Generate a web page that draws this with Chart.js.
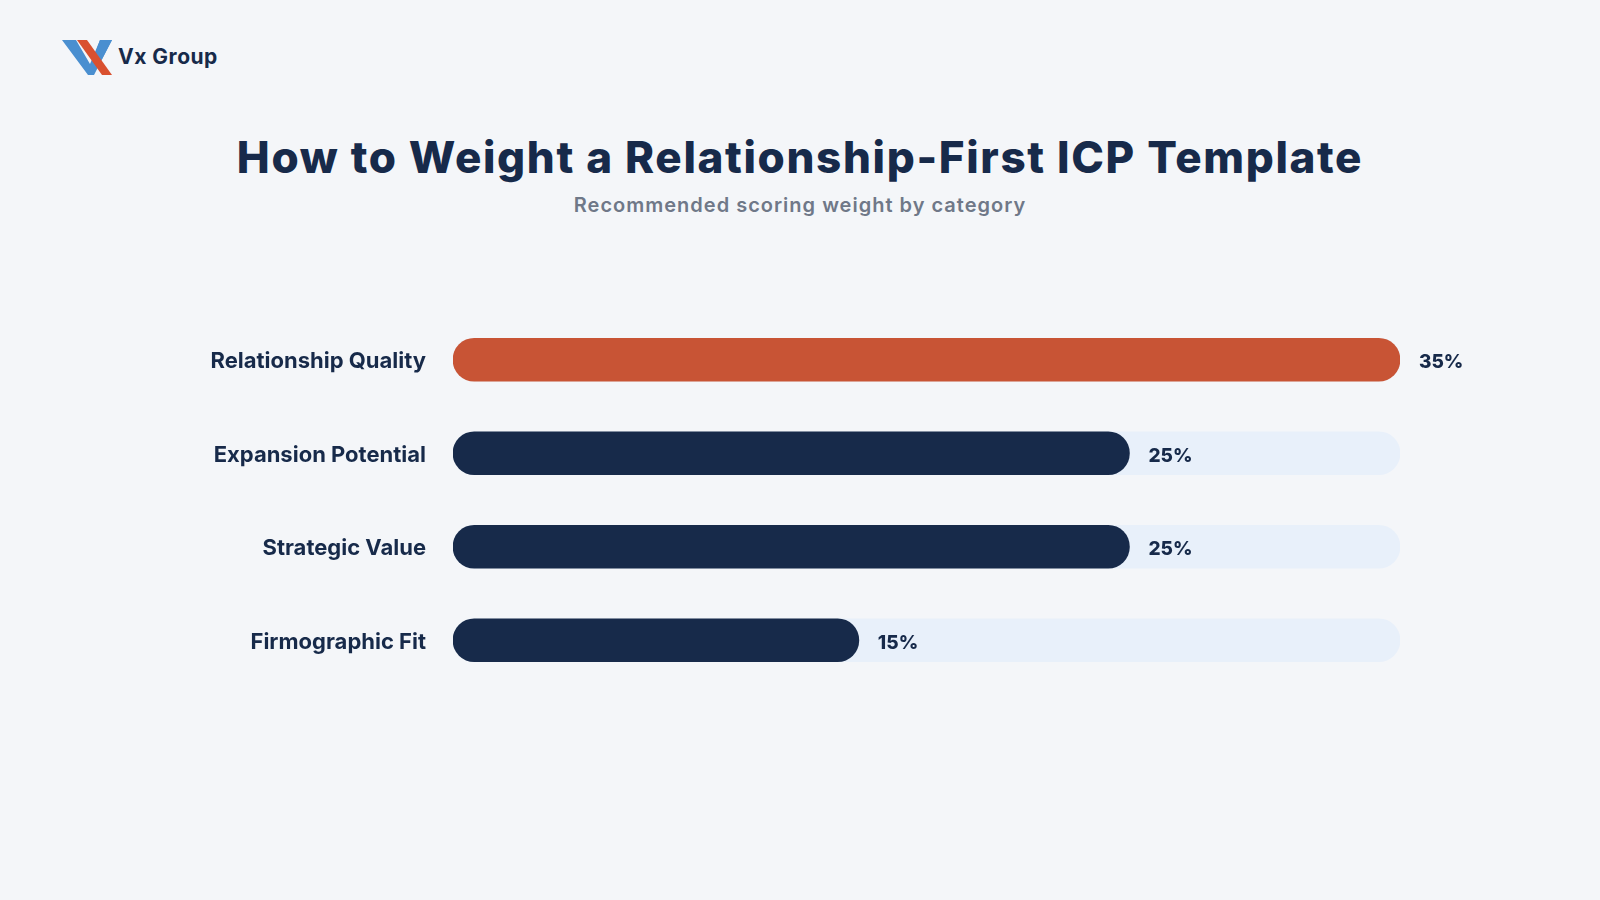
<!DOCTYPE html>
<html>
<head>
<meta charset="utf-8">
<title>How to Weight a Relationship-First ICP Template</title>
<script src="https://cdn.jsdelivr.net/npm/chart.js@4.4.1/dist/chart.umd.min.js"></script>
<style>
  html, body { margin: 0; padding: 0; background: #f4f6f9; }
  body { width: 1600px; height: 900px; position: relative; overflow: hidden; font-family: Inter, "Open Sans", sans-serif; color: #172a4a; }
  #chart { position: absolute; left: 0; top: 0; }
  .logo { position: absolute; left: 60px; top: 38px; width: 60px; height: 40px; }
  .brand { position: absolute; left: 118px; top: 45px; font-size: 21px; line-height: 24px; font-weight: 700; letter-spacing: 0.5px; color: #172a4a; }
  .title { position: absolute; left: 0; width: 1600px; top: 135px; text-align: center; font-size: 44px; line-height: 44px; font-weight: 800; letter-spacing: 1.65px; }
  .subtitle { position: absolute; left: 0; width: 1600px; top: 195px; text-align: center; font-size: 20px; line-height: 20px; font-weight: 600; letter-spacing: 1px; color: #6f7888; }
</style>
</head>
<body>
<svg class="logo" viewBox="0 0 60 40">
  <polygon points="2,2 16,2 30,26 40,2 52,2 34,37 28,37" fill="#4a8fd0"/>
  <polygon points="17,2 27,2 52,37 42,37" fill="#d9502f"/>
  <polygon points="40,2 52,2 42,21 36,13" fill="#4a8fd0"/>
</svg>
<div class="brand">Vx Group</div>
<div class="title">How to Weight a Relationship-First ICP Template</div>
<div class="subtitle">Recommended scoring weight by category</div>
<canvas id="chart" width="1600" height="900"></canvas>
<script>
// data
const categories = ['Relationship Quality', 'Expansion Potential', 'Strategic Value', 'Firmographic Fit'];
const weights = [35, 25, 25, 15];
const scaleMax = 35;
const highlight = 'Relationship Quality';

const NAVY = '#172a4a';
const ORANGE = '#c85435';
const TRACK = '#e8f0fa';

const trackData = categories.map(() => scaleMax);
const barColors = categories.map(c => c === highlight ? ORANGE : NAVY);

// percent label right after each bar
const valueLabels = {
    id: 'valueLabels',
    afterDatasetsDraw(chart) {
        const ctx = chart.ctx;
        const meta = chart.getDatasetMeta(1);
        ctx.save();
        ctx.font = '800 19px Inter';
        ctx.fillStyle = NAVY;
        ctx.textBaseline = 'middle';
        ctx.textAlign = 'left';
        meta.data.forEach((bar, i) => {
            ctx.fillText(weights[i] + '%', bar.x + 19, bar.y + 3);
        });
        ctx.restore();
    }
};

new Chart(document.getElementById('chart'), {
    type: 'bar',
    data: {
        labels: categories,
        datasets: [
            {
                data: trackData,
                backgroundColor: TRACK,
                barThickness: 43,
                borderRadius: 22,
                borderSkipped: false,
                grouped: false,
                order: 2,
            },
            {
                data: weights,
                backgroundColor: barColors,
                barThickness: 43,
                borderRadius: 22,
                borderSkipped: false,
                grouped: false,
                order: 1,
            },
        ],
    },
    options: {
        responsive: false,
        animation: false,
        indexAxis: 'y',
        layout: { padding: { top: 313, bottom: 213, left: 0, right: 200 } },
        plugins: {
            legend: { display: false },
            tooltip: { enabled: false },
        },
        scales: {
            x: { display: false, min: 0, max: scaleMax },
            y: {
                afterFit(scale) { scale.width = 453; },
                grid: { display: false, drawTicks: false },
                border: { display: false },
                ticks: {
                    padding: 27,
                    labelOffset: 2,
                    color: NAVY,
                    font: { family: 'Inter', size: 22, weight: '700' },
                },
            },
        },
    },
    plugins: [valueLabels],
});
</script>
</body>
</html>
